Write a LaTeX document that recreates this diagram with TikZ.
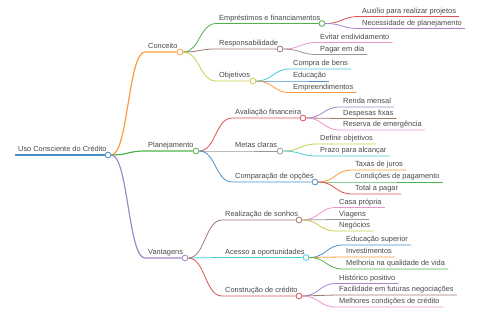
\documentclass[tikz,border=0pt]{standalone}
\usepackage{fontspec}
\setmainfont{Liberation Sans}
\usepackage{tikz}
\usetikzlibrary{calc, backgrounds}
\definecolor{mmblue}{HTML}{4A8FC7}
\definecolor{mmorange}{HTML}{FF9A3C}
\definecolor{mmgreen}{HTML}{4DB34D}
\definecolor{mmred}{HTML}{DE5253}
\definecolor{mmpurple}{HTML}{A485CA}
\definecolor{mmbrown}{HTML}{A0786F}
\definecolor{mmpink}{HTML}{E995CE}
\definecolor{mmgray}{HTML}{999999}
\definecolor{mmolive}{HTML}{C9CA4E}
\definecolor{mmcyan}{HTML}{45CBD9}

\begin{document}
\begin{tikzpicture}[x=1pt, y=-1pt,
    every node/.style={font=\fontsize{7.4}{8}\selectfont, text=black!72},
    topic/.style={anchor=south west, inner xsep=3pt, inner ysep=0.6pt, text height=1.55ex, text depth=0.45ex},
    dot/.style={circle, draw=#1, fill=white, minimum size=5.8pt, inner sep=0pt, line width=0.8pt},
    link/.style={line width=0.8pt, to path={let \p1=(\tikztostart), \p2=(\tikztotarget) in
        .. controls ($(\x1,\y1)!.5!(\x2,\y1)$) and ($(\x1,\y2)!.5!(\x2,\y2)$) .. (\tikztotarget)}}]
    \useasboundingbox (0,0) rectangle (480,320);

    % root
    \node[topic] (root-t) at (15,155) {Uso Consciente do Crédito};
    \node[dot=mmblue] (root) at (108,155) {};

    % main branches
    \node[topic] (conc-t) at (145,52) {Conceito};
    \node[dot=mmorange] (conc) at (180,52) {};
    \node[topic] (plan-t) at (145,151) {Planejamento};
    \node[dot=mmgreen] (plan) at (196,151) {};
    \node[topic] (vant-t) at (145,258) {Vantagens};
    \node[dot=mmpurple] (vant) at (185,258) {};

    % Conceito
    \node[topic] (emp-t) at (216,23.5) {Empréstimos e financiamentos};
    \node[dot=mmgreen] (emp) at (322,23.5) {};
    \node[topic] (resp-t) at (216,49) {Responsabilidade};
    \node[dot=mmbrown] (resp) at (280,49) {};
    \node[topic] (obj-t) at (216,81) {Objetivos};
    \node[dot=mmolive] (obj) at (253,81) {};

    \node[topic] (aux) at (359,16.5) {Auxílio para realizar projetos};
    \node[topic] (nec) at (359,28.5) {Necessidade de planejamento};
    \node[topic] (evit) at (317,42.5) {Evitar endividamento};
    \node[topic] (pagar) at (317,54.5) {Pagar em dia};
    \node[topic] (compra) at (290,69) {Compra de bens};
    \node[topic] (educ) at (290,81) {Educação};
    \node[topic] (empr) at (290,92.5) {Empreendimentos};

    % Planejamento
    \node[topic] (aval-t) at (232,118) {Avaliação financeira};
    \node[dot=mmred] (aval) at (303,118) {};
    \node[topic] (metas-t) at (232,151) {Metas claras};
    \node[dot=mmgray] (metas) at (280,151) {};
    \node[topic] (comp-t) at (232,182) {Comparação de opções};
    \node[dot=mmblue] (comp) at (315,182) {};

    \node[topic] (renda) at (340,107) {Renda mensal};
    \node[topic] (desp) at (340,118.5) {Despesas fixas};
    \node[topic] (reserva) at (340,130) {Reserva de emergência};
    \node[topic] (definir) at (317,144) {Definir objetivos};
    \node[topic] (prazo) at (317,156) {Prazo para alcançar};
    \node[topic] (taxas) at (352,170) {Taxas de juros};
    \node[topic] (cond) at (352,182) {Condições de pagamento};
    \node[topic] (total) at (352,194) {Total a pagar};

    % Vantagens
    \node[topic] (sonhos-t) at (222,220) {Realização de sonhos};
    \node[dot=mmbrown] (sonhos) at (299,220) {};
    \node[topic] (acesso-t) at (222,257.5) {Acesso a oportunidades};
    \node[dot=mmcyan] (acesso) at (306,257.5) {};
    \node[topic] (constr-t) at (222,296) {Construção de crédito};
    \node[dot=mmred] (constr) at (299,296) {};

    \node[topic] (casa) at (336,207.5) {Casa própria};
    \node[topic] (viag) at (336,219.5) {Viagens};
    \node[topic] (neg) at (336,231) {Negócios};
    \node[topic] (edsup) at (343,245) {Educação superior};
    \node[topic] (invest) at (343,257) {Investimentos};
    \node[topic] (melhoria) at (343,269) {Melhoria na qualidade de vida};
    \node[topic] (hist) at (336,283.5) {Histórico positivo};
    \node[topic] (facil) at (336,295) {Facilidade em futuras negociações};
    \node[topic] (melhores) at (336,307) {Melhores condições de crédito};

    \begin{scope}[on background layer]
        \draw[mmblue, line width=1.8pt] (root-t.south west) -- (root.west);
        \draw[link, mmorange, line width=1.2pt] (root.east) to (conc-t.south west) -- (conc.west);
        \draw[link, mmgreen, line width=1.2pt] (root.east) to (plan-t.south west) -- (plan.west);
        \draw[link, mmpurple, line width=1.2pt] (root.east) to (vant-t.south west) -- (vant.west);

        \draw[link, mmgreen] (conc.east) to (emp-t.south west) -- (emp.west);
        \draw[link, mmbrown] (conc.east) to (resp-t.south west) -- (resp.west);
        \draw[link, mmolive] (conc.east) to (obj-t.south west) -- (obj.west);
        \draw[link, mmred] (emp.east) to (aux.south west) -- (aux.south east);
        \draw[link, mmpurple] (emp.east) to (nec.south west) -- (nec.south east);
        \draw[link, mmpink] (resp.east) to (evit.south west) -- (evit.south east);
        \draw[link, mmgray] (resp.east) to (pagar.south west) -- (pagar.south east);
        \draw[link, mmcyan] (obj.east) to (compra.south west) -- (compra.south east);
        \draw[link, mmblue] (obj.east) to (educ.south west) -- (educ.south east);
        \draw[link, mmorange] (obj.east) to (empr.south west) -- (empr.south east);

        \draw[link, mmred] (plan.east) to (aval-t.south west) -- (aval.west);
        \draw[link, mmgray] (plan.east) to (metas-t.south west) -- (metas.west);
        \draw[link, mmblue] (plan.east) to (comp-t.south west) -- (comp.west);
        \draw[link, mmpurple] (aval.east) to (renda.south west) -- (renda.south east);
        \draw[link, mmbrown] (aval.east) to (desp.south west) -- (desp.south east);
        \draw[link, mmpink] (aval.east) to (reserva.south west) -- (reserva.south east);
        \draw[link, mmolive] (metas.east) to (definir.south west) -- (definir.south east);
        \draw[link, mmcyan] (metas.east) to (prazo.south west) -- (prazo.south east);
        \draw[link, mmorange] (comp.east) to (taxas.south west) -- (taxas.south east);
        \draw[link, mmgreen] (comp.east) to (cond.south west) -- (cond.south east);
        \draw[link, mmred] (comp.east) to (total.south west) -- (total.south east);

        \draw[link, mmbrown] (vant.east) to (sonhos-t.south west) -- (sonhos.west);
        \draw[link, mmcyan] (vant.east) to (acesso-t.south west) -- (acesso.west);
        \draw[link, mmred] (vant.east) to (constr-t.south west) -- (constr.west);
        \draw[link, mmpink] (sonhos.east) to (casa.south west) -- (casa.south east);
        \draw[link, mmgray] (sonhos.east) to (viag.south west) -- (viag.south east);
        \draw[link, mmolive] (sonhos.east) to (neg.south west) -- (neg.south east);
        \draw[link, mmblue] (acesso.east) to (edsup.south west) -- (edsup.south east);
        \draw[link, mmorange] (acesso.east) to (invest.south west) -- (invest.south east);
        \draw[link, mmgreen] (acesso.east) to (melhoria.south west) -- (melhoria.south east);
        \draw[link, mmpurple] (constr.east) to (hist.south west) -- (hist.south east);
        \draw[link, mmbrown] (constr.east) to (facil.south west) -- (facil.south east);
        \draw[link, mmpink] (constr.east) to (melhores.south west) -- (melhores.south east);
    \end{scope}
\end{tikzpicture}
\end{document}
